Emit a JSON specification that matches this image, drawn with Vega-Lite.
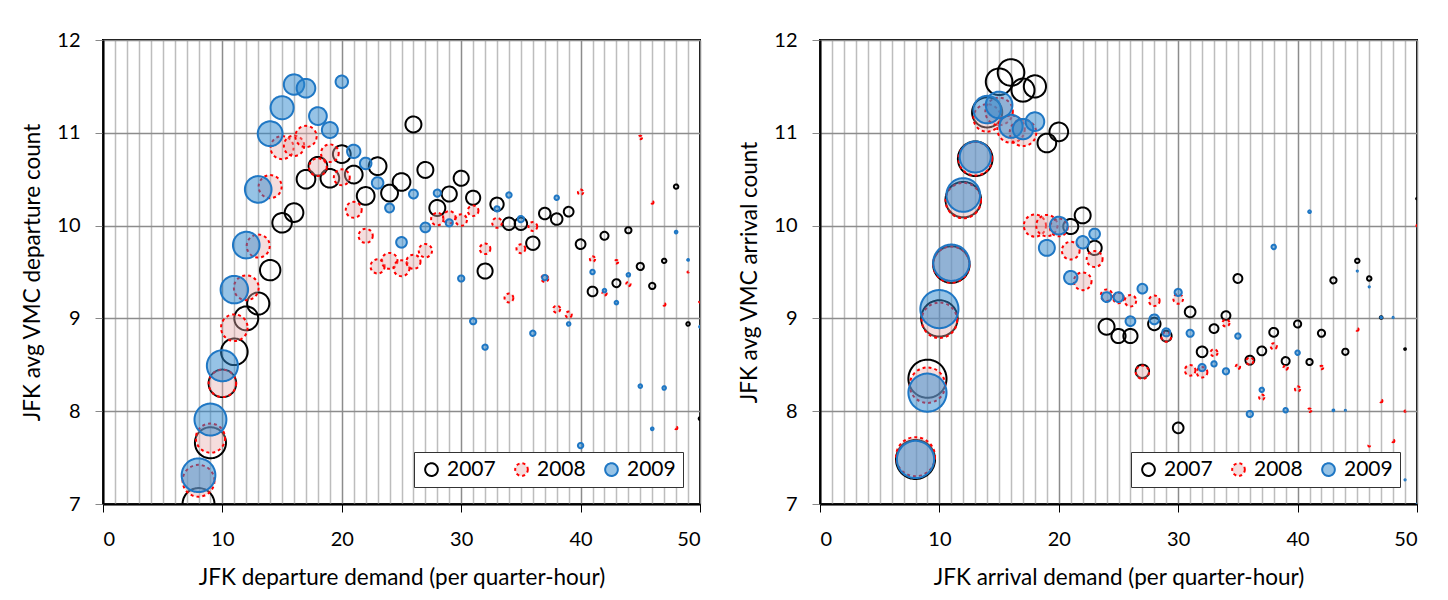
{
"$schema":"https://vega.github.io/schema/vega-lite/v6.json",
"padding":{"left":20,"top":29,"right":20,"bottom":6},
"background":"white",
"config":{"font":"Lato","view":{"stroke":"#000","strokeWidth":2},"axis":{"labelColor":"#000","titleColor":"#000","titleFontWeight":"normal","labelFontSize":20,"titleFontSize":22.5}},
"data":{"values":[
{"p":"d","yr":"2007","x":8,"y":7.0,"w":70.1},{"p":"d","yr":"2007","x":9,"y":7.66,"w":66.3},{"p":"d","yr":"2007","x":10,"y":8.3,"w":52.0},{"p":"d","yr":"2007","x":11,"y":8.64,"w":48.7},{"p":"d","yr":"2007","x":12,"y":9.0,"w":39.4},{"p":"d","yr":"2007","x":13,"y":9.16,"w":33.8},{"p":"d","yr":"2007","x":14,"y":9.52,"w":28.6},{"p":"d","yr":"2007","x":15,"y":10.03,"w":26.2},{"p":"d","yr":"2007","x":16,"y":10.14,"w":23.9},{"p":"d","yr":"2007","x":17,"y":10.5,"w":23.9},{"p":"d","yr":"2007","x":18,"y":10.64,"w":23.9},{"p":"d","yr":"2007","x":19,"y":10.51,"w":23.9},{"p":"d","yr":"2007","x":20,"y":10.77,"w":21.6},{"p":"d","yr":"2007","x":21,"y":10.55,"w":21.6},{"p":"d","yr":"2007","x":22,"y":10.32,"w":21.6},{"p":"d","yr":"2007","x":23,"y":10.64,"w":21.6},{"p":"d","yr":"2007","x":24,"y":10.35,"w":19.5},{"p":"d","yr":"2007","x":25,"y":10.47,"w":21.6},{"p":"d","yr":"2007","x":26,"y":11.09,"w":17.5},{"p":"d","yr":"2007","x":27,"y":10.6,"w":17.5},{"p":"d","yr":"2007","x":28,"y":10.19,"w":17.5},{"p":"d","yr":"2007","x":29,"y":10.34,"w":15.6},{"p":"d","yr":"2007","x":30,"y":10.51,"w":15.6},{"p":"d","yr":"2007","x":31,"y":10.3,"w":13.8},{"p":"d","yr":"2007","x":32,"y":9.51,"w":15.6},{"p":"d","yr":"2007","x":33,"y":10.23,"w":12.2},{"p":"d","yr":"2007","x":34,"y":10.02,"w":10.6},{"p":"d","yr":"2007","x":35,"y":10.02,"w":10.6},{"p":"d","yr":"2007","x":36,"y":9.81,"w":12.2},{"p":"d","yr":"2007","x":37,"y":10.13,"w":9.1},{"p":"d","yr":"2007","x":38,"y":10.07,"w":9.1},{"p":"d","yr":"2007","x":39,"y":10.15,"w":6.5},{"p":"d","yr":"2007","x":40,"y":9.8,"w":6.5},{"p":"d","yr":"2007","x":41,"y":9.29,"w":6.5},{"p":"d","yr":"2007","x":42,"y":9.89,"w":4.4},{"p":"d","yr":"2007","x":43,"y":9.38,"w":4.4},{"p":"d","yr":"2007","x":44,"y":9.95,"w":2.65},{"p":"d","yr":"2007","x":45,"y":9.56,"w":3.5},{"p":"d","yr":"2007","x":46,"y":9.35,"w":2.65},{"p":"d","yr":"2007","x":47,"y":9.62,"w":1.35},{"p":"d","yr":"2007","x":48,"y":10.42,"w":1.35},{"p":"d","yr":"2007","x":49,"y":8.94,"w":0.87},{"p":"d","yr":"2007","x":50,"y":7.92,"w":0.49},
{"p":"d","yr":"2008","x":8,"y":7.25,"w":70.1},{"p":"d","yr":"2008","x":9,"y":7.71,"w":58.9},{"p":"d","yr":"2008","x":10,"y":8.3,"w":52.0},{"p":"d","yr":"2008","x":11,"y":8.9,"w":48.7},{"p":"d","yr":"2008","x":12,"y":9.33,"w":42.4},{"p":"d","yr":"2008","x":13,"y":9.78,"w":36.6},{"p":"d","yr":"2008","x":14,"y":10.42,"w":36.6},{"p":"d","yr":"2008","x":15,"y":10.84,"w":36.6},{"p":"d","yr":"2008","x":16,"y":10.86,"w":28.6},{"p":"d","yr":"2008","x":17,"y":10.96,"w":31.2},{"p":"d","yr":"2008","x":18,"y":10.63,"w":21.6},{"p":"d","yr":"2008","x":19,"y":10.78,"w":21.6},{"p":"d","yr":"2008","x":20,"y":10.52,"w":17.5},{"p":"d","yr":"2008","x":21,"y":10.17,"w":17.5},{"p":"d","yr":"2008","x":22,"y":9.89,"w":13.8},{"p":"d","yr":"2008","x":23,"y":9.56,"w":13.8},{"p":"d","yr":"2008","x":24,"y":9.62,"w":17.5},{"p":"d","yr":"2008","x":25,"y":9.54,"w":17.5},{"p":"d","yr":"2008","x":26,"y":9.61,"w":13.8},{"p":"d","yr":"2008","x":27,"y":9.73,"w":12.2},{"p":"d","yr":"2008","x":28,"y":10.07,"w":10.6},{"p":"d","yr":"2008","x":29,"y":10.09,"w":10.6},{"p":"d","yr":"2008","x":30,"y":10.06,"w":9.1},{"p":"d","yr":"2008","x":31,"y":10.16,"w":7.8},{"p":"d","yr":"2008","x":32,"y":9.75,"w":7.8},{"p":"d","yr":"2008","x":33,"y":10.03,"w":6.5},{"p":"d","yr":"2008","x":34,"y":9.22,"w":5.4},{"p":"d","yr":"2008","x":35,"y":9.75,"w":5.4},{"p":"d","yr":"2008","x":36,"y":9.99,"w":5.4},{"p":"d","yr":"2008","x":37,"y":9.43,"w":3.5},{"p":"d","yr":"2008","x":38,"y":9.1,"w":3.5},{"p":"d","yr":"2008","x":39,"y":9.04,"w":2.65},{"p":"d","yr":"2008","x":40,"y":10.36,"w":1.95},{"p":"d","yr":"2008","x":41,"y":9.64,"w":1.95},{"p":"d","yr":"2008","x":42,"y":9.27,"w":1.35},{"p":"d","yr":"2008","x":43,"y":9.61,"w":0.87},{"p":"d","yr":"2008","x":44,"y":9.37,"w":1.35},{"p":"d","yr":"2008","x":45,"y":10.95,"w":0.87},{"p":"d","yr":"2008","x":46,"y":10.25,"w":0.49},{"p":"d","yr":"2008","x":47,"y":9.15,"w":0.49},{"p":"d","yr":"2008","x":48,"y":7.82,"w":0.49},{"p":"d","yr":"2008","x":49,"y":9.5,"w":0.1},{"p":"d","yr":"2008","x":50,"y":9.18,"w":0.22},
{"p":"d","yr":"2009","x":8,"y":7.31,"w":78.1},{"p":"d","yr":"2009","x":9,"y":7.91,"w":70.1},{"p":"d","yr":"2009","x":10,"y":8.49,"w":66.3},{"p":"d","yr":"2009","x":11,"y":9.31,"w":52.0},{"p":"d","yr":"2009","x":12,"y":9.79,"w":48.7},{"p":"d","yr":"2009","x":13,"y":10.39,"w":48.7},{"p":"d","yr":"2009","x":14,"y":10.99,"w":42.4},{"p":"d","yr":"2009","x":15,"y":11.27,"w":36.6},{"p":"d","yr":"2009","x":16,"y":11.52,"w":28.6},{"p":"d","yr":"2009","x":17,"y":11.48,"w":23.9},{"p":"d","yr":"2009","x":18,"y":11.18,"w":21.6},{"p":"d","yr":"2009","x":19,"y":11.03,"w":17.5},{"p":"d","yr":"2009","x":20,"y":11.55,"w":10.6},{"p":"d","yr":"2009","x":21,"y":10.8,"w":12.2},{"p":"d","yr":"2009","x":22,"y":10.67,"w":9.1},{"p":"d","yr":"2009","x":23,"y":10.46,"w":9.1},{"p":"d","yr":"2009","x":24,"y":10.19,"w":5.4},{"p":"d","yr":"2009","x":25,"y":9.82,"w":7.8},{"p":"d","yr":"2009","x":26,"y":10.34,"w":5.4},{"p":"d","yr":"2009","x":27,"y":9.98,"w":6.5},{"p":"d","yr":"2009","x":28,"y":10.35,"w":3.5},{"p":"d","yr":"2009","x":29,"y":10.03,"w":3.5},{"p":"d","yr":"2009","x":30,"y":9.43,"w":2.65},{"p":"d","yr":"2009","x":31,"y":8.97,"w":2.65},{"p":"d","yr":"2009","x":32,"y":8.69,"w":1.95},{"p":"d","yr":"2009","x":33,"y":10.18,"w":1.95},{"p":"d","yr":"2009","x":34,"y":10.33,"w":1.95},{"p":"d","yr":"2009","x":35,"y":10.07,"w":2.65},{"p":"d","yr":"2009","x":36,"y":8.84,"w":1.95},{"p":"d","yr":"2009","x":37,"y":9.44,"w":1.95},{"p":"d","yr":"2009","x":38,"y":10.3,"w":1.35},{"p":"d","yr":"2009","x":39,"y":8.94,"w":0.87},{"p":"d","yr":"2009","x":40,"y":7.63,"w":1.95},{"p":"d","yr":"2009","x":41,"y":9.5,"w":1.35},{"p":"d","yr":"2009","x":42,"y":9.3,"w":0.87},{"p":"d","yr":"2009","x":43,"y":9.17,"w":0.87},{"p":"d","yr":"2009","x":44,"y":9.47,"w":0.87},{"p":"d","yr":"2009","x":45,"y":8.27,"w":0.87},{"p":"d","yr":"2009","x":46,"y":7.81,"w":0.49},{"p":"d","yr":"2009","x":47,"y":8.25,"w":0.87},{"p":"d","yr":"2009","x":48,"y":9.93,"w":0.49},{"p":"d","yr":"2009","x":49,"y":9.63,"w":0.22},{"p":"d","yr":"2009","x":50,"y":8.91,"w":0.22},
{"p":"a","yr":"2007","x":8,"y":7.48,"w":104.7},{"p":"a","yr":"2007","x":9,"y":8.35,"w":100},{"p":"a","yr":"2007","x":10,"y":9.0,"w":90.9},{"p":"a","yr":"2007","x":11,"y":9.58,"w":90.9},{"p":"a","yr":"2007","x":12,"y":10.28,"w":86.5},{"p":"a","yr":"2007","x":13,"y":10.72,"w":82.3},{"p":"a","yr":"2007","x":14,"y":11.22,"w":62.5},{"p":"a","yr":"2007","x":15,"y":11.55,"w":48.7},{"p":"a","yr":"2007","x":16,"y":11.65,"w":48.7},{"p":"a","yr":"2007","x":17,"y":11.46,"w":36.6},{"p":"a","yr":"2007","x":18,"y":11.5,"w":33.8},{"p":"a","yr":"2007","x":19,"y":10.89,"w":23.9},{"p":"a","yr":"2007","x":20,"y":11.01,"w":23.9},{"p":"a","yr":"2007","x":21,"y":9.99,"w":15.6},{"p":"a","yr":"2007","x":22,"y":10.11,"w":17.5},{"p":"a","yr":"2007","x":23,"y":9.76,"w":13.8},{"p":"a","yr":"2007","x":24,"y":8.91,"w":17.5},{"p":"a","yr":"2007","x":25,"y":8.81,"w":13.8},{"p":"a","yr":"2007","x":26,"y":8.81,"w":13.8},{"p":"a","yr":"2007","x":27,"y":8.43,"w":12.2},{"p":"a","yr":"2007","x":28,"y":8.94,"w":10.6},{"p":"a","yr":"2007","x":29,"y":8.81,"w":7.8},{"p":"a","yr":"2007","x":30,"y":7.82,"w":7.8},{"p":"a","yr":"2007","x":31,"y":9.07,"w":7.8},{"p":"a","yr":"2007","x":32,"y":8.64,"w":7.8},{"p":"a","yr":"2007","x":33,"y":8.89,"w":5.4},{"p":"a","yr":"2007","x":34,"y":9.03,"w":5.4},{"p":"a","yr":"2007","x":35,"y":9.43,"w":5.4},{"p":"a","yr":"2007","x":36,"y":8.55,"w":5.4},{"p":"a","yr":"2007","x":37,"y":8.65,"w":5.4},{"p":"a","yr":"2007","x":38,"y":8.85,"w":5.4},{"p":"a","yr":"2007","x":39,"y":8.54,"w":4.4},{"p":"a","yr":"2007","x":40,"y":8.94,"w":3.5},{"p":"a","yr":"2007","x":41,"y":8.53,"w":2.65},{"p":"a","yr":"2007","x":42,"y":8.84,"w":3.5},{"p":"a","yr":"2007","x":43,"y":9.41,"w":2.65},{"p":"a","yr":"2007","x":44,"y":8.64,"w":2.65},{"p":"a","yr":"2007","x":45,"y":9.62,"w":1.35},{"p":"a","yr":"2007","x":46,"y":9.43,"w":1.35},{"p":"a","yr":"2007","x":47,"y":9.01,"w":0.49},{"p":"a","yr":"2007","x":49,"y":8.67,"w":0.22},{"p":"a","yr":"2007","x":50,"y":10.29,"w":0.22},
{"p":"a","yr":"2008","x":8,"y":7.51,"w":104.7},{"p":"a","yr":"2008","x":9,"y":8.28,"w":86.5},{"p":"a","yr":"2008","x":10,"y":8.98,"w":86.5},{"p":"a","yr":"2008","x":11,"y":9.58,"w":90.9},{"p":"a","yr":"2008","x":12,"y":10.27,"w":86.5},{"p":"a","yr":"2008","x":13,"y":10.72,"w":78.1},{"p":"a","yr":"2008","x":14,"y":11.16,"w":52.0},{"p":"a","yr":"2008","x":15,"y":11.23,"w":52.0},{"p":"a","yr":"2008","x":16,"y":11.04,"w":52.0},{"p":"a","yr":"2008","x":17,"y":11.0,"w":48.7},{"p":"a","yr":"2008","x":18,"y":10.0,"w":33.8},{"p":"a","yr":"2008","x":19,"y":10.0,"w":31.2},{"p":"a","yr":"2008","x":20,"y":9.98,"w":21.6},{"p":"a","yr":"2008","x":21,"y":9.73,"w":21.6},{"p":"a","yr":"2008","x":22,"y":9.4,"w":21.6},{"p":"a","yr":"2008","x":23,"y":9.64,"w":17.5},{"p":"a","yr":"2008","x":24,"y":9.25,"w":9.1},{"p":"a","yr":"2008","x":25,"y":9.22,"w":7.8},{"p":"a","yr":"2008","x":26,"y":9.19,"w":9.1},{"p":"a","yr":"2008","x":27,"y":8.42,"w":12.2},{"p":"a","yr":"2008","x":28,"y":9.19,"w":7.8},{"p":"a","yr":"2008","x":29,"y":8.8,"w":6.5},{"p":"a","yr":"2008","x":30,"y":9.21,"w":6.5},{"p":"a","yr":"2008","x":31,"y":8.44,"w":7.8},{"p":"a","yr":"2008","x":32,"y":8.42,"w":7.8},{"p":"a","yr":"2008","x":33,"y":8.63,"w":3.5},{"p":"a","yr":"2008","x":34,"y":8.95,"w":3.5},{"p":"a","yr":"2008","x":35,"y":8.48,"w":1.35},{"p":"a","yr":"2008","x":36,"y":8.54,"w":3.5},{"p":"a","yr":"2008","x":37,"y":8.15,"w":1.95},{"p":"a","yr":"2008","x":38,"y":8.7,"w":2.65},{"p":"a","yr":"2008","x":39,"y":8.47,"w":1.35},{"p":"a","yr":"2008","x":40,"y":8.24,"w":1.95},{"p":"a","yr":"2008","x":41,"y":8.01,"w":0.87},{"p":"a","yr":"2008","x":42,"y":8.47,"w":0.87},{"p":"a","yr":"2008","x":45,"y":8.88,"w":0.49},{"p":"a","yr":"2008","x":46,"y":7.63,"w":0.22},{"p":"a","yr":"2008","x":47,"y":8.11,"w":0.49},{"p":"a","yr":"2008","x":48,"y":7.68,"w":0.49},{"p":"a","yr":"2008","x":49,"y":8.0,"w":0.1},{"p":"a","yr":"2008","x":50,"y":10.0,"w":0.1},
{"p":"a","yr":"2009","x":8,"y":7.48,"w":95.4},{"p":"a","yr":"2009","x":9,"y":8.2,"w":100},{"p":"a","yr":"2009","x":10,"y":9.1,"w":100},{"p":"a","yr":"2009","x":11,"y":9.6,"w":90.9},{"p":"a","yr":"2009","x":12,"y":10.33,"w":78.1},{"p":"a","yr":"2009","x":13,"y":10.74,"w":66.3},{"p":"a","yr":"2009","x":14,"y":11.25,"w":52.0},{"p":"a","yr":"2009","x":15,"y":11.3,"w":48.7},{"p":"a","yr":"2009","x":16,"y":11.07,"w":36.6},{"p":"a","yr":"2009","x":17,"y":11.04,"w":28.6},{"p":"a","yr":"2009","x":18,"y":11.12,"w":23.9},{"p":"a","yr":"2009","x":19,"y":9.76,"w":17.5},{"p":"a","yr":"2009","x":20,"y":10.0,"w":21.6},{"p":"a","yr":"2009","x":21,"y":9.44,"w":12.2},{"p":"a","yr":"2009","x":22,"y":9.82,"w":10.6},{"p":"a","yr":"2009","x":23,"y":9.91,"w":7.8},{"p":"a","yr":"2009","x":24,"y":9.23,"w":6.5},{"p":"a","yr":"2009","x":25,"y":9.23,"w":6.5},{"p":"a","yr":"2009","x":26,"y":8.97,"w":6.5},{"p":"a","yr":"2009","x":27,"y":9.32,"w":6.5},{"p":"a","yr":"2009","x":28,"y":8.99,"w":6.5},{"p":"a","yr":"2009","x":29,"y":8.85,"w":4.4},{"p":"a","yr":"2009","x":30,"y":9.28,"w":3.5},{"p":"a","yr":"2009","x":31,"y":8.84,"w":3.5},{"p":"a","yr":"2009","x":32,"y":8.47,"w":3.5},{"p":"a","yr":"2009","x":33,"y":8.51,"w":1.95},{"p":"a","yr":"2009","x":34,"y":8.43,"w":2.65},{"p":"a","yr":"2009","x":35,"y":8.81,"w":1.95},{"p":"a","yr":"2009","x":36,"y":7.97,"w":2.65},{"p":"a","yr":"2009","x":37,"y":8.23,"w":1.35},{"p":"a","yr":"2009","x":38,"y":9.77,"w":1.35},{"p":"a","yr":"2009","x":39,"y":8.01,"w":1.35},{"p":"a","yr":"2009","x":40,"y":8.63,"w":1.35},{"p":"a","yr":"2009","x":41,"y":10.15,"w":0.49},{"p":"a","yr":"2009","x":43,"y":8.01,"w":0.22},{"p":"a","yr":"2009","x":44,"y":8.01,"w":0.1},{"p":"a","yr":"2009","x":45,"y":9.51,"w":0.1},{"p":"a","yr":"2009","x":46,"y":9.34,"w":0.1},{"p":"a","yr":"2009","x":47,"y":9.01,"w":0.22},{"p":"a","yr":"2009","x":48,"y":9.01,"w":0.1},{"p":"a","yr":"2009","x":49,"y":7.26,"w":0.1},{"p":"a","yr":"2009","x":50,"y":7.0,"w":0.05}
]},
"spacing":35,
"resolve":{"scale":{"x":"independent","y":"independent"},"legend":{"stroke":"independent","fill":"independent","strokeDash":"independent","size":"independent"}},
"hconcat":[
{"width":597,"height":464,
"transform":[{"filter":"datum.p === 'd'"}],
"mark":{"type":"point","shape":"circle","strokeWidth":2,"clip":true,"opacity":1},
"encoding":{
"x":{"field":"x","type":"quantitative","title":"JFK departure demand (per quarter-hour)","scale":{"domain":[0,50],"nice":false},"axis":{"values":[0,1,2,3,4,5,6,7,8,9,10,11,12,13,14,15,16,17,18,19,20,21,22,23,24,25,26,27,28,29,30,31,32,33,34,35,36,37,38,39,40,41,42,43,44,45,46,47,48,49,50],"labelExpr":"datum.value % 10 === 0 ? datum.label : ''","labelOverlap":false,"gridColor":{"condition":{"test":"datum.value % 10 === 0","value":"#8c8c8c"},"value":"#bdbdbd"},"gridWidth":1.5,"tickColor":{"condition":{"test":"datum.value % 10 === 0","value":"#000000"},"value":"rgba(0,0,0,0)"},"tickSize":8,"tickWidth":1,"domainColor":"#000","domainWidth":2,"labelPadding":17,"titlePadding":17}},
"y":{"field":"y","type":"quantitative","title":"JFK avg VMC departure count","scale":{"domain":[7,12],"nice":false},"axis":{"values":[7,8,9,10,11,12],"gridColor":"#8c8c8c","gridWidth":1.5,"tickColor":"#888","tickSize":8,"tickWidth":1,"domainColor":"#000","domainWidth":2,"labelPadding":15,"titlePadding":12}},
"stroke":{"field":"yr","type":"nominal","scale":{"domain":["2007","2008","2009"],"range":["#000000","#ff0000","#1f77c4"]},"legend":{"orient":"bottom-right","direction":"horizontal","title":null,"labelFontSize":21,"symbolSize":160,"symbolStrokeWidth":2,"fillColor":"white","strokeColor":"#333","padding":7,"offset":17,"columnPadding":15,"labelOffset":5}},
"fill":{"field":"yr","type":"nominal","scale":{"domain":["2007","2008","2009"],"range":["rgba(255,255,255,0)","rgba(230,170,170,0.4)","rgba(45,135,205,0.5)"]}},
"strokeDash":{"field":"yr","type":"nominal","scale":{"domain":["2007","2008","2009"],"range":[[1,0],[3,3],[1,0]]}},
"size":{"field":"w","type":"quantitative","scale":{"domain":[0,100],"range":[0,1452]},"legend":null},
"order":{"field":"yr","type":"ordinal"}
}},
{"width":597,"height":464,
"transform":[{"filter":"datum.p === 'a'"}],
"mark":{"type":"point","shape":"circle","strokeWidth":2,"clip":true,"opacity":1},
"encoding":{
"x":{"field":"x","type":"quantitative","title":"JFK arrival demand (per quarter-hour)","scale":{"domain":[0,50],"nice":false},"axis":{"values":[0,1,2,3,4,5,6,7,8,9,10,11,12,13,14,15,16,17,18,19,20,21,22,23,24,25,26,27,28,29,30,31,32,33,34,35,36,37,38,39,40,41,42,43,44,45,46,47,48,49,50],"labelExpr":"datum.value % 10 === 0 ? datum.label : ''","labelOverlap":false,"gridColor":{"condition":{"test":"datum.value % 10 === 0","value":"#8c8c8c"},"value":"#bdbdbd"},"gridWidth":1.5,"tickColor":{"condition":{"test":"datum.value % 10 === 0","value":"#000000"},"value":"rgba(0,0,0,0)"},"tickSize":8,"tickWidth":1,"domainColor":"#000","domainWidth":2,"labelPadding":17,"titlePadding":17}},
"y":{"field":"y","type":"quantitative","title":"JFK avg VMC arrival count","scale":{"domain":[7,12],"nice":false},"axis":{"values":[7,8,9,10,11,12],"gridColor":"#8c8c8c","gridWidth":1.5,"tickColor":"#888","tickSize":8,"tickWidth":1,"domainColor":"#000","domainWidth":2,"labelPadding":15,"titlePadding":12}},
"stroke":{"field":"yr","type":"nominal","scale":{"domain":["2007","2008","2009"],"range":["#000000","#ff0000","#1f77c4"]},"legend":{"orient":"bottom-right","direction":"horizontal","title":null,"labelFontSize":21,"symbolSize":160,"symbolStrokeWidth":2,"fillColor":"white","strokeColor":"#333","padding":7,"offset":17,"columnPadding":15,"labelOffset":5}},
"fill":{"field":"yr","type":"nominal","scale":{"domain":["2007","2008","2009"],"range":["rgba(255,255,255,0)","rgba(230,170,170,0.4)","rgba(45,135,205,0.5)"]}},
"strokeDash":{"field":"yr","type":"nominal","scale":{"domain":["2007","2008","2009"],"range":[[1,0],[3,3],[1,0]]}},
"size":{"field":"w","type":"quantitative","scale":{"domain":[0,100],"range":[0,1452]},"legend":null},
"order":{"field":"yr","type":"ordinal"}
}}
]
}
